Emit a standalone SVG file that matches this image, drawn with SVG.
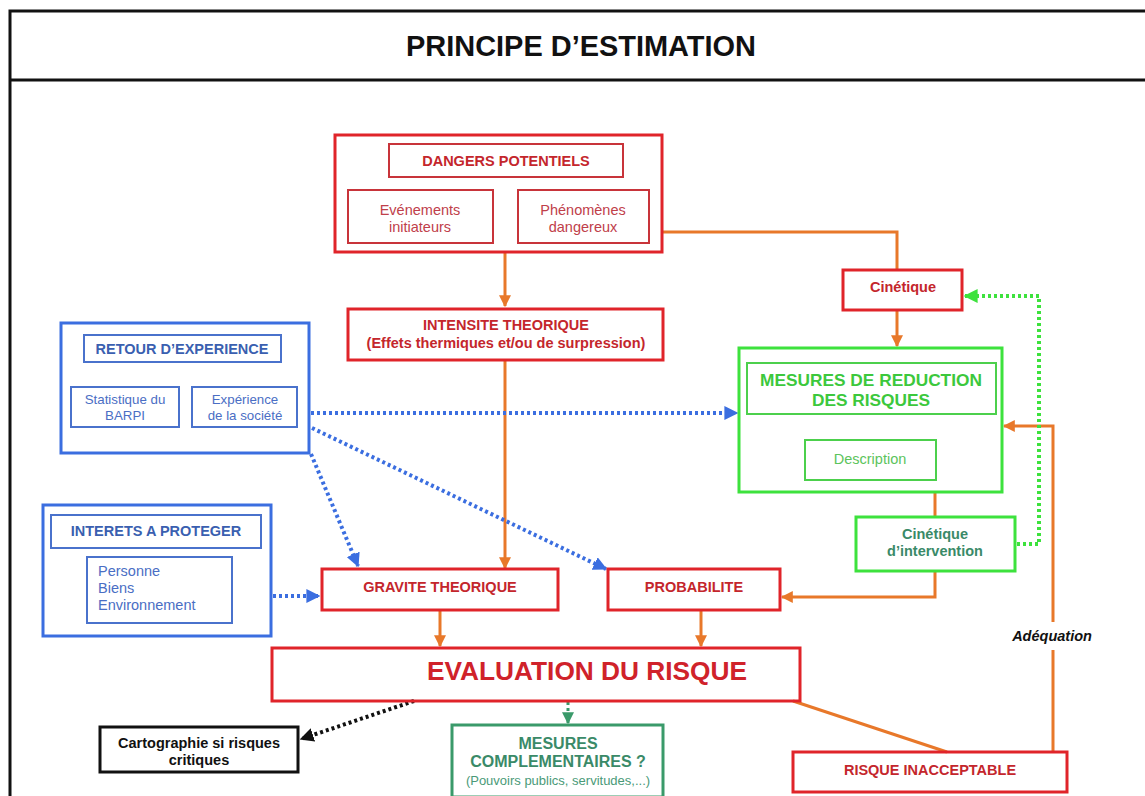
<svg xmlns="http://www.w3.org/2000/svg" width="1145" height="796" viewBox="0 0 1145 796">
<defs>
<style>
text{font-family:"Liberation Sans",Arial,sans-serif;text-anchor:middle}
.b{font-weight:bold}
.red{fill:none;stroke:#e0242a;stroke-width:3}
.redt{fill:none;stroke:#c8343a;stroke-width:2}
.rt{fill:#c4262c}
.rl{fill:#c0404a}
.blue{fill:none;stroke:#3b6ee0;stroke-width:3}
.bluet{fill:none;stroke:#4a72cc;stroke-width:2}
.bt{fill:#3a5fb0}
.blt{fill:#4a6ec4}
.grn{fill:none;stroke:#3de23d;stroke-width:3}
.grnt{fill:none;stroke:#4cd04c;stroke-width:2}
.gt{fill:#3cc83c}
.glt{fill:#5cc45c}
.teal{fill:none;stroke:#3a9a6a;stroke-width:3}
.tt{fill:#3a8a68}
.or{fill:none;stroke:#e8782a;stroke-width:3}
.dotb{fill:none;stroke:#3b6ee0;stroke-width:4;stroke-dasharray:3 3}
.dotg{fill:none;stroke:#3de23d;stroke-width:4;stroke-dasharray:3 3}
.dotk{fill:none;stroke:#111;stroke-width:4;stroke-dasharray:3 3}
.dott{fill:none;stroke:#3a9a6a;stroke-width:3;stroke-dasharray:3 3}
.s{font-size:14.5px}
.st{text-anchor:start}
</style>
<marker id="ao" viewBox="0 0 10 10" refX="9" refY="5" markerWidth="4" markerHeight="4" orient="auto" markerUnits="strokeWidth"><path d="M0,0L10,5L0,10z" fill="#e8782a"/></marker>
<marker id="ab" viewBox="0 0 10 10" refX="9" refY="5" markerWidth="3.5" markerHeight="3.5" orient="auto" markerUnits="strokeWidth"><path d="M0,0L10,5L0,10z" fill="#3b6ee0"/></marker>
<marker id="ag" viewBox="0 0 10 10" refX="9" refY="5" markerWidth="3.5" markerHeight="3.5" orient="auto" markerUnits="strokeWidth"><path d="M0,0L10,5L0,10z" fill="#3de23d"/></marker>
<marker id="ak" viewBox="0 0 10 10" refX="9" refY="5" markerWidth="3.5" markerHeight="3.5" orient="auto" markerUnits="strokeWidth"><path d="M0,0L10,5L0,10z" fill="#111"/></marker>
<marker id="at" viewBox="0 0 10 10" refX="9" refY="5" markerWidth="4" markerHeight="4" orient="auto" markerUnits="strokeWidth"><path d="M0,0L10,5L0,10z" fill="#3a9a6a"/></marker>
</defs>
<rect width="1145" height="796" fill="#fff"/>
<g id="frame">
<path d="M1145,11H10V796" fill="none" stroke="#111" stroke-width="3"/>
<path d="M10,80H1145" fill="none" stroke="#111" stroke-width="3"/>
<text x="581" y="56" class="b" font-size="29" fill="#111" textLength="350" lengthAdjust="spacingAndGlyphs">PRINCIPE D’ESTIMATION</text>
</g>
<g id="connectors">
<path class="or" d="M505,252V306" marker-end="url(#ao)"/>
<path class="or" d="M662,232H897V270"/>
<path class="or" d="M505,360V568" marker-end="url(#ao)"/>
<path class="or" d="M897,310V346" marker-end="url(#ao)"/>
<path class="or" d="M935,492V517"/>
<path class="or" d="M935,571V597H782" marker-end="url(#ao)"/>
<path class="or" d="M440,610V646" marker-end="url(#ao)"/>
<path class="or" d="M701,610V646" marker-end="url(#ao)"/>
<path class="or" d="M1053,752V650M1053,622V426H1004" marker-end="url(#ao)"/>
<path class="or" d="M793,701L947,752"/>
<path class="dotb" d="M311,413H737" marker-end="url(#ab)"/>
<path class="dotb" d="M312,428L606,569" marker-end="url(#ab)"/>
<path class="dotb" d="M311,454L358,566" marker-end="url(#ab)"/>
<path class="dotb" d="M273,596H319" marker-end="url(#ab)"/>
<path class="dotg" d="M1017,544H1039V296H965" marker-end="url(#ag)"/>
<path class="dotk" d="M414,701L301,739" marker-end="url(#ak)"/>
<path class="dott" d="M568,702V723" marker-end="url(#at)"/>
<text x="1052" y="641" class="b s" font-style="italic" fill="#111">Adéquation</text>
</g>
<g id="dangers">
<rect class="red" x="335" y="135" width="327" height="117"/>
<rect class="redt" x="389" y="144" width="234" height="33"/>
<text x="506" y="166" class="b rt s">DANGERS POTENTIELS</text>
<rect class="redt" x="348" y="190" width="145" height="53"/>
<text x="420" y="215" class="rl s">Evénements</text>
<text x="420" y="232" class="rl s">initiateurs</text>
<rect class="redt" x="518" y="190" width="131" height="53"/>
<text x="583" y="215" class="rl s">Phénomènes</text>
<text x="583" y="232" class="rl s">dangereux</text>
</g>
<g id="intensite">
<rect class="red" x="348" y="309" width="315" height="51"/>
<text x="506" y="330" class="b rt s">INTENSITE THEORIQUE</text>
<text x="506" y="348" class="b rt s">(Effets thermiques et/ou de surpression)</text>
</g>
<g id="retour">
<rect class="blue" x="61" y="323" width="248" height="130"/>
<rect class="bluet" x="84" y="335" width="197" height="27"/>
<text x="182" y="354" class="b bt s">RETOUR D’EXPERIENCE</text>
<rect class="bluet" x="71" y="387" width="108" height="40"/>
<text x="125" y="404" class="blt" font-size="13.3">Statistique du</text>
<text x="125" y="420" class="blt" font-size="13.3">BARPI</text>
<rect class="bluet" x="192" y="387" width="105" height="40"/>
<text x="245" y="404" class="blt" font-size="13.3">Expérience</text>
<text x="245" y="420" class="blt" font-size="13.3">de la société</text>
</g>
<g id="interets">
<rect class="blue" x="43" y="505" width="228" height="131"/>
<rect class="bluet" x="51" y="515" width="210" height="33"/>
<text x="156" y="536" class="b bt s">INTERETS A PROTEGER</text>
<rect class="bluet" x="87" y="557" width="145" height="66"/>
<text x="98" y="576" class="blt s st">Personne</text>
<text x="98" y="593" class="blt s st">Biens</text>
<text x="98" y="610" class="blt s st">Environnement</text>
</g>
<g id="cinetique">
<rect class="red" x="843" y="270" width="119" height="40"/>
<text x="903" y="292" class="b rt s">Cinétique</text>
</g>
<g id="mesures-reduction">
<rect class="grn" x="739" y="348" width="263" height="144"/>
<rect class="grnt" x="747" y="363" width="249" height="51"/>
<text x="871" y="386" class="b gt" font-size="17.3">MESURES DE REDUCTION</text>
<text x="871" y="406" class="b gt" font-size="17.3">DES RISQUES</text>
<rect class="grnt" x="805" y="440" width="131" height="40"/>
<text x="870" y="464" class="glt s">Description</text>
</g>
<g id="cinetique-intervention">
<rect class="grn" x="856" y="517" width="159" height="54"/>
<text x="935" y="539" class="b tt s">Cinétique</text>
<text x="935" y="556" class="b tt s">d’intervention</text>
</g>
<g id="gravite">
<rect class="red" x="322" y="569" width="236" height="41"/>
<text x="440" y="592" class="b rt s">GRAVITE THEORIQUE</text>
</g>
<g id="probabilite">
<rect class="red" x="608" y="569" width="172" height="41"/>
<text x="694" y="592" class="b rt s">PROBABILITE</text>
</g>
<g id="evaluation">
<rect class="red" x="272" y="648" width="528" height="53"/>
<text x="587" y="680" class="b" font-size="25" fill="#d0222a" textLength="320" lengthAdjust="spacingAndGlyphs">EVALUATION DU RISQUE</text>
</g>
<g id="cartographie">
<rect x="100" y="727" width="198" height="45" fill="none" stroke="#111" stroke-width="3"/>
<text x="199" y="748" class="b s" fill="#111">Cartographie si risques</text>
<text x="199" y="765" class="b s" fill="#111">critiques</text>
</g>
<g id="mesures-complementaires">
<rect class="teal" x="452" y="725" width="211" height="72"/>
<text x="558" y="749" class="b tt" font-size="16">MESURES</text>
<text x="558" y="767" class="b tt" font-size="16">COMPLEMENTAIRES ?</text>
<text x="558" y="785" font-size="13" fill="#4a9a78">(Pouvoirs publics, servitudes,...)</text>
</g>
<g id="risque-inacceptable">
<rect class="red" x="793" y="752" width="274" height="40"/>
<text x="930" y="775" class="b rt s">RISQUE INACCEPTABLE</text>
</g>
</svg>
